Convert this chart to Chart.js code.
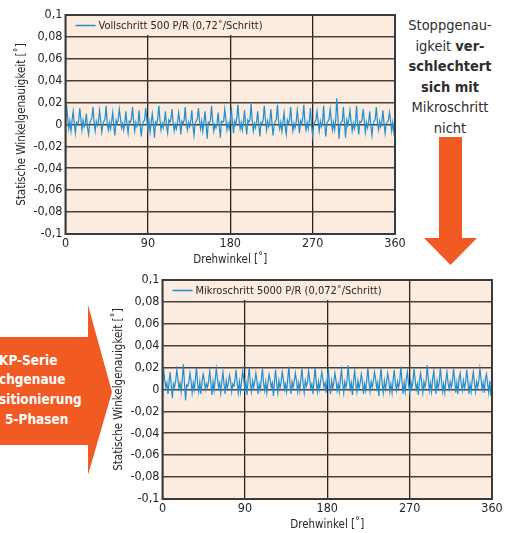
<!DOCTYPE html>
<html>
<head>
<meta charset="utf-8">
<script src="https://cdn.jsdelivr.net/npm/chart.js@4/dist/chart.umd.min.js"></script>
<style>
  html, body { margin: 0; padding: 0; background: #ffffff; }
  body { width: 514px; height: 533px; position: relative; overflow: hidden;
         font-family: 'DejaVu Sans Condensed', 'Liberation Sans', sans-serif; }
  .chartbox { position: absolute; width: 410px; height: 268px; }
  #boxTop { left: 0; top: 0; }
  #boxBottom { left: 97px; top: 265px; }
  svg { position: absolute; left: 0; top: 0; }
  .note { position: absolute; left: 400px; top: 15px; width: 100px; text-align: center;
          color: #2e2e2e; font-size: 14.5px; line-height: 20.6px; }
  .note b { font-weight: bold; }
  .badge { position: absolute; color: #ffffff; font-weight: bold; font-size: 13.5px;
           line-height: 19.5px; white-space: nowrap; }
</style>
</head>
<body>
<svg width="514" height="533">
  <!-- down arrow between the two charts -->
  <polygon fill="#f15a22" points="439,137 462,137 462,238 477,238 450.5,265 424,238 439,238"/>
  <!-- arrow pointing at the lower chart -->
  <polygon fill="#f15a22" points="0,337 88,337 88,305 112,392 88,475 88,445 0,445"/>
</svg>
<div class="note">Stoppgenau-<br>igkeit <b>ver-</b><br><b>schlechtert</b><br><b>sich mit</b><br>Mikroschritt<br>nicht</div>
<div class="badge" style="left:-1px; top:351px;">KP-Serie</div>
<div class="badge" style="left:-1px; top:370px;">chgenaue</div>
<div class="badge" style="left:-1px; top:390px;">sitionierung</div>
<div class="badge" style="left:5px; top:410px;">5-Phasen</div>

<div class="chartbox" id="boxTop"><canvas id="chartTop"></canvas></div>
<div class="chartbox" id="boxBottom"><canvas id="chartBottom"></canvas></div>

<script>
// Tick labels and axis texts
const xTickLabels = { 0: '0', 90: '90', 180: '180', 270: '270', 360: '360' };
const yTickLabels = ['0,1', '0,08', '0,06', '0,04', '0,02', '0', '-0,02', '-0,04', '-0,06', '-0,08', '-0,1'];
const xTitle = 'Drehwinkel [˚]';
const yTitle = 'Statische Winkelgenauigkeit [˚]';

// Series names
const seriesFull = 'Vollschritt 500 P/R (0,72˚/Schritt)';
const seriesMicro = 'Mikroschritt 5000 P/R (0,072˚/Schritt)';

// Measured angular error [°], sampled every 1.2° from 0° to 360°
const fullStepError = [
  0.002, 0.018, 0.006, -0.004, 0.003, -0.006,
  0.004, 0.012, 0.001, -0.008, 0.002, 0.000,
  0.003, 0.015, 0.005, -0.005, 0.004, -0.002,
  0.001, 0.010, -0.003, -0.009, 0.001, 0.004,
  0.006, 0.016, 0.002, -0.006, 0.003, -0.001,
  0.002, 0.013, 0.004, -0.007, 0.000, 0.003,
  0.005, 0.017, 0.001, -0.005, 0.002, -0.004,
  0.003, 0.011, -0.002, -0.010, 0.004, 0.001,
  0.004, 0.014, 0.006, -0.003, 0.001, -0.005,
  0.002, 0.012, 0.000, -0.008, 0.003, 0.002,
  0.005, 0.016, 0.003, -0.006, 0.002, -0.002,
  0.001, 0.013, -0.001, -0.011, 0.000, 0.003,
  0.004, 0.015, 0.005, -0.004, 0.003, -0.007,
  0.002, 0.010, 0.001, -0.012, 0.002, 0.000,
  0.006, 0.017, 0.004, -0.005, 0.001, -0.003,
  0.003, 0.012, -0.002, -0.008, 0.004, 0.002,
  0.005, 0.014, 0.002, -0.006, 0.000, -0.004,
  0.002, 0.011, 0.003, -0.009, 0.003, 0.001,
  0.004, 0.016, 0.001, -0.005, 0.002, -0.002,
  0.003, 0.013, -0.001, -0.010, 0.001, 0.003,
  0.005, 0.015, 0.004, -0.004, 0.003, -0.006,
  0.002, 0.012, 0.000, -0.013, 0.002, 0.001,
  0.004, 0.017, 0.003, -0.006, 0.000, -0.003,
  0.001, 0.011, -0.002, -0.012, 0.003, 0.002,
  0.003, 0.014, 0.005, -0.005, 0.001, -0.004,
  0.004, 0.016, 0.002, -0.008, 0.003, 0.000,
  0.006, 0.018, 0.004, -0.004, 0.002, -0.005,
  0.002, 0.013, 0.000, -0.009, 0.004, 0.002,
  0.005, 0.019, 0.003, -0.006, 0.001, -0.003,
  0.003, 0.012, -0.001, -0.011, 0.002, 0.001,
  0.004, 0.017, 0.005, -0.005, 0.003, -0.002,
  0.002, 0.014, 0.001, -0.010, 0.000, 0.003,
  0.005, 0.018, 0.003, -0.004, 0.002, -0.006,
  0.003, 0.011, -0.002, -0.009, 0.004, 0.001,
  0.004, 0.016, 0.002, -0.006, 0.001, -0.003,
  0.002, 0.013, 0.004, -0.008, 0.003, 0.000,
  0.006, 0.018, 0.001, -0.005, 0.002, -0.004,
  0.003, 0.015, -0.001, -0.010, 0.000, 0.002,
  0.004, 0.012, 0.003, -0.006, 0.003, -0.002,
  0.002, 0.017, 0.000, -0.011, 0.001, 0.003,
  0.005, 0.014, 0.004, -0.005, 0.002, -0.005,
  0.004, 0.024, 0.006, -0.013, 0.000, 0.002,
  0.003, 0.016, 0.001, -0.012, 0.004, -0.001,
  0.005, 0.013, 0.003, -0.006, 0.001, -0.004,
  0.002, 0.017, 0.000, -0.009, 0.003, 0.002,
  0.004, 0.014, 0.004, -0.007, 0.002, -0.003,
  0.003, 0.012, -0.001, -0.010, 0.000, 0.003,
  0.005, 0.016, 0.002, -0.005, 0.003, -0.002,
  0.002, 0.013, 0.001, -0.008, 0.001, 0.002,
  0.004, 0.011, 0.003, -0.006, 0.002, -0.007,
  0.001
];

const microStepError = [
  0.004, 0.019, 0.009, 0.002, 0.006, -0.004,
  0.007, 0.016, 0.004, -0.008, 0.005, 0.002,
  0.008, 0.018, 0.010, 0.001, 0.006, -0.002,
  0.009, 0.023, 0.006, -0.010, 0.004, 0.003,
  0.007, 0.015, 0.008, -0.003, 0.006, 0.000,
  0.010, 0.020, 0.005, -0.002, 0.007, -0.004,
  0.006, 0.014, 0.009, 0.000, 0.005, 0.002,
  0.008, 0.017, 0.006, -0.005, 0.007, -0.001,
  0.009, 0.019, 0.010, 0.002, 0.006, -0.003,
  0.007, 0.016, 0.005, -0.004, 0.008, 0.001,
  0.006, 0.013, 0.008, -0.002, 0.005, 0.003,
  0.009, 0.018, 0.006, -0.003, 0.007, -0.002,
  0.008, 0.017, 0.009, 0.001, 0.006, -0.005,
  0.010, 0.020, 0.005, -0.002, 0.008, 0.002,
  0.007, 0.015, 0.008, -0.004, 0.005, 0.000,
  0.009, 0.019, 0.006, -0.001, 0.007, -0.003,
  0.006, 0.014, 0.009, 0.002, 0.006, -0.006,
  0.008, 0.018, 0.005, -0.003, 0.008, 0.001,
  0.007, 0.016, 0.010, 0.000, 0.005, -0.002,
  0.009, 0.021, 0.006, -0.004, 0.007, 0.002,
  0.008, 0.015, 0.008, -0.002, 0.006, -0.001,
  0.010, 0.019, 0.005, -0.003, 0.008, 0.003,
  0.007, 0.017, 0.009, 0.001, 0.005, -0.004,
  0.009, 0.020, 0.006, -0.002, 0.007, 0.000,
  0.008, 0.016, 0.010, 0.002, 0.006, -0.003,
  0.009, 0.019, 0.005, -0.004, 0.008, 0.001,
  0.007, 0.015, 0.008, -0.001, 0.005, -0.002,
  0.010, 0.018, 0.006, -0.003, 0.007, 0.002,
  0.008, 0.022, 0.009, 0.000, 0.006, -0.005,
  0.009, 0.017, 0.005, -0.002, 0.008, 0.001,
  0.006, 0.014, 0.008, -0.004, 0.005, -0.001,
  0.009, 0.020, 0.006, -0.002, 0.007, 0.002,
  0.008, 0.016, 0.010, 0.001, 0.006, -0.006,
  0.010, 0.019, 0.005, -0.003, 0.008, 0.000,
  0.007, 0.015, 0.009, -0.002, 0.005, -0.003,
  0.009, 0.018, 0.006, -0.001, 0.007, 0.002,
  0.008, 0.021, 0.008, -0.004, 0.006, -0.002,
  0.010, 0.016, 0.005, -0.002, 0.008, 0.001,
  0.007, 0.019, 0.009, 0.000, 0.005, -0.005,
  0.009, 0.015, 0.006, -0.003, 0.007, 0.002,
  0.008, 0.022, 0.010, -0.001, 0.006, -0.002,
  0.010, 0.017, 0.005, -0.004, 0.008, 0.001,
  0.007, 0.020, 0.008, -0.002, 0.005, -0.003,
  0.009, 0.016, 0.006, 0.000, 0.007, 0.002,
  0.008, 0.019, 0.009, -0.003, 0.006, -0.004,
  0.010, 0.015, 0.005, -0.001, 0.008, 0.001,
  0.007, 0.018, 0.008, -0.004, 0.005, -0.002,
  0.009, 0.016, 0.006, -0.002, 0.007, 0.002,
  0.008, 0.019, 0.010, 0.000, 0.006, -0.003,
  0.010, 0.014, 0.005, -0.003, 0.008, -0.006,
  0.004
];

const FONT = "'DejaVu Sans Condensed', 'Liberation Sans', sans-serif";
const PLOT_BG = '#fcebdf';
const LINE_BLUE = '#1f8fd2';
const TEXT_DARK = '#262626';

function toPoints(values) {
  const step = 360 / (values.length - 1);
  return values.map((v, i) => ({ x: i * step, y: v }));
}

// Peach plot background, legend box inside the plot and a dark frame
const plotDecor = {
  id: 'plotDecor',
  beforeDraw(chart) {
    const { ctx, chartArea: a } = chart;
    ctx.save();
    ctx.fillStyle = PLOT_BG;
    ctx.fillRect(a.left, a.top, a.right - a.left, a.bottom - a.top);
    ctx.restore();
  },
  beforeDatasetsDraw(chart) {
    const { ctx, chartArea: a } = chart;
    const label = chart.data.datasets[0].label;
    ctx.save();
    ctx.font = '11px ' + FONT;
    const tw = ctx.measureText(label).width;
    const boxW = 32 + tw + 6;
    ctx.fillStyle = PLOT_BG;
    ctx.fillRect(a.left + 1, a.top + 1, boxW, 19);
    ctx.strokeStyle = LINE_BLUE;
    ctx.lineWidth = 1.5;
    ctx.beginPath();
    ctx.moveTo(a.left + 10, a.top + 10.5);
    ctx.lineTo(a.left + 30, a.top + 10.5);
    ctx.stroke();
    ctx.fillStyle = TEXT_DARK;
    ctx.textBaseline = 'middle';
    ctx.textAlign = 'left';
    ctx.fillText(label, a.left + 33, a.top + 11);
    ctx.restore();
  },
  afterDatasetsDraw(chart) {
    const { ctx, chartArea: a } = chart;
    ctx.save();
    ctx.strokeStyle = '#3a3a3a';
    ctx.lineWidth = 2;
    ctx.strokeRect(a.left, a.top, a.right - a.left, a.bottom - a.top);
    ctx.restore();
  }
};

function makeChart(canvasId, label, values) {
  return new Chart(document.getElementById(canvasId), {
    type: 'line',
    data: {
      datasets: [{
        label: label,
        data: toPoints(values),
        borderColor: LINE_BLUE,
        borderWidth: 1.2,
        pointRadius: 0,
        tension: 0,
        fill: false
      }]
    },
    options: {
      responsive: true,
      maintainAspectRatio: false,
      animation: false,
      layout: { padding: { left: 0, top: 15, right: 15, bottom: 0 } },
      plugins: { legend: { display: false }, tooltip: { enabled: false } },
      scales: {
        x: {
          type: 'linear',
          min: 0, max: 360,
          afterFit(scale) { scale.height = 34; },
          afterBuildTicks(scale) {
            scale.ticks = Object.keys(xTickLabels).map(v => ({ value: Number(v) }));
          },
          ticks: {
            padding: 2,
            color: TEXT_DARK,
            font: { family: FONT, size: 12.5 },
            maxRotation: 0,
            autoSkip: false,
            callback: (v) => xTickLabels[v]
          },
          grid: { color: '#262626', lineWidth: 1.3, drawTicks: false },
          border: { display: false },
          title: {
            display: true, text: xTitle, color: TEXT_DARK,
            font: { family: FONT, size: 11.5 },
            padding: { top: 0, bottom: 1 }
          }
        },
        y: {
          min: -0.1, max: 0.1,
          afterFit(scale) { scale.width = 65.5; },
          afterBuildTicks(scale) {
            scale.ticks = yTickLabels.map((t, i) => ({ value: 0.1 - i * 0.02 }));
          },
          ticks: {
            padding: 3,
            color: TEXT_DARK,
            font: { family: FONT, size: 12.5 },
            autoSkip: false,
            callback: (v, i) => yTickLabels[i]
          },
          grid: { color: '#4a403b', lineWidth: 1.6, drawTicks: false },
          border: { display: false },
          title: {
            display: true, text: yTitle, color: TEXT_DARK,
            font: { family: FONT, size: 11.5 },
            padding: { top: 15, bottom: 0 }
          }
        }
      }
    },
    plugins: [plotDecor]
  });
}

makeChart('chartTop', seriesFull, fullStepError);
makeChart('chartBottom', seriesMicro, microStepError);
</script>
</body>
</html>
